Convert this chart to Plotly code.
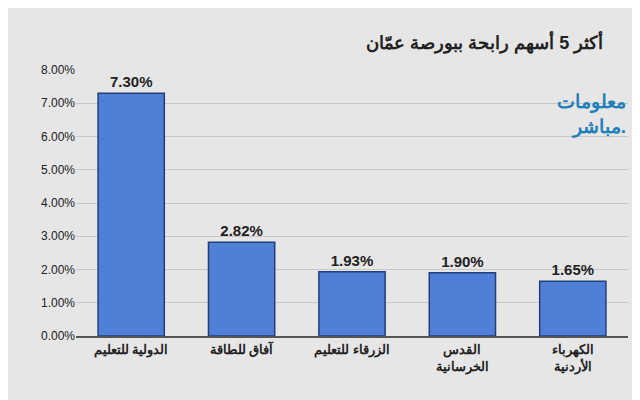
import plotly.graph_objects as go

companies = ["الدولية للتعليم", "آفاق للطاقة", "الزرقاء للتعليم", "القدس<br>الخرسانية", "الكهرباء<br>الأردنية"]
gains = [7.30, 2.82, 1.93, 1.90, 1.65]
tick_vals = [0, 1, 2, 3, 4, 5, 6, 7, 8]
tick_text = ["%.2f%%" % v for v in tick_vals]

fig = go.Figure(go.Bar(
    x=["<b>%s</b>" % c for c in companies], y=gains,
    marker=dict(color="#4f7fd6", line=dict(color="#233f7a", width=1.5)),
    width=0.6,
    text=["<b>%.2f%%</b>" % v for v in gains], textposition="outside",
    textfont=dict(size=15, color="#222", family="Liberation Sans"),
    cliponaxis=False,
))

fig.update_layout(
    width=640, height=400,
    margin=dict(l=68, r=20, t=62, b=72),
    paper_bgcolor="#e6e6e6", plot_bgcolor="#e6e6e6",
    showlegend=False,
    font=dict(family="Liberation Sans", color="#222"),
    title=dict(text="<b>أكثر 5 أسهم رابحة ببورصة عمّان</b>", x=0.93, xanchor="right",
               y=0.93, font=dict(size=18, color="#222")),
    xaxis=dict(tickfont=dict(size=13, family="Liberation Sans"), showline=True,
               linecolor="#555", linewidth=2),
    yaxis=dict(range=[0, 8], tickvals=tick_vals, ticktext=tick_text,
               gridcolor="#c8c8c8", tickfont=dict(size=12), zeroline=False),
)
fig.add_annotation(text="<b>معلومات<br>مباشر.</b>", xref="paper", yref="paper",
                   x=1.0, y=0.93, xanchor="right", yanchor="top", showarrow=False,
                   font=dict(size=19, color="#1f7fb8"), align="right")

fig.write_html("out.html")
